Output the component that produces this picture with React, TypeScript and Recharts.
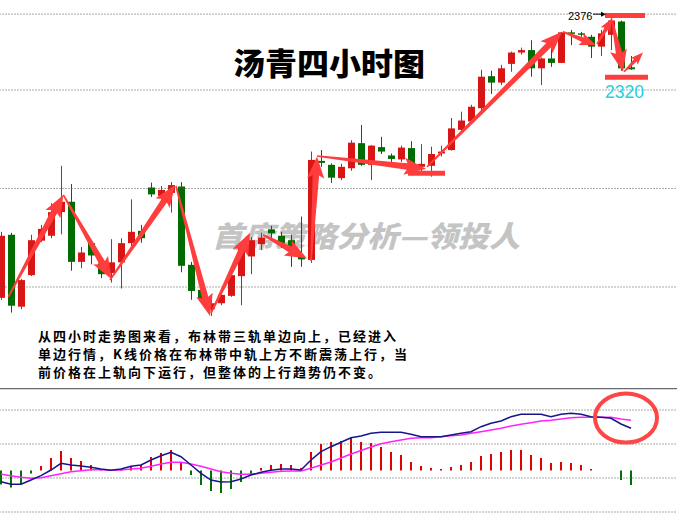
import React from 'react';
import { ComposedChart, Bar, Line, XAxis, YAxis, ReferenceLine, ReferenceDot, Cell } from 'recharts';

// ---- candle data (4-hour) ----
const openP = [
  2317.8, 2330.6, 2316.0, 2322.4, 2329.4, 2330.4, 2335.2, 2337.3, 2325.1, 2328.9,
  2324.8, 2322.8, 2325.0, 2328.9, 2331.4, 2340.2, 2338.5, 2339.1, 2340.4, 2324.5,
  2319.4, 2315.5, 2316.7, 2318.2, 2322.2, 2326.2, 2328.7, 2331.7, 2330.4, 2329.5,
  2326.3, 2325.5, 2345.6, 2344.8, 2342.1, 2344.1, 2349.2, 2344.8, 2348.4, 2346.7,
  2345.9, 2348.2, 2344.4, 2344.6, 2347.1, 2347.8, 2351.9, 2353.6, 2356.3, 2362.8,
  2361.5, 2365.3, 2367.6, 2368.1, 2364.4, 2366.4, 2365.5, 2371.7, 2371.5, 2370.8,
  2368.8, 2371.2, 2373.9, 2364.6,
];
const closeP = [
  2330.4, 2316.2, 2321.4, 2329.5, 2331.8, 2335.2, 2337.3, 2325.1, 2327.0, 2326.4,
  2322.6, 2325.0, 2328.9, 2331.2, 2329.9, 2338.8, 2339.7, 2340.7, 2324.3, 2319.2,
  2317.6, 2316.7, 2318.4, 2322.4, 2327.9, 2329.5, 2330.0, 2330.9, 2328.9, 2327.5,
  2325.6, 2345.8, 2345.2, 2342.2, 2344.4, 2349.3, 2344.8, 2348.7, 2347.5, 2346.0,
  2348.3, 2344.6, 2345.0, 2347.0, 2347.5, 2352.2, 2353.8, 2356.6, 2362.7, 2361.5,
  2364.4, 2367.6, 2368.1, 2364.4, 2366.4, 2365.5, 2371.7, 2371.4, 2371.2, 2368.8,
  2371.5, 2374.1, 2364.4, 2364.2,
];
const highP = [
  2331.2, 2331.0, 2321.6, 2330.6, 2332.6, 2337.0, 2344.6, 2340.9, 2328.1, 2329.5,
  2325.5, 2329.7, 2329.9, 2337.8, 2332.6, 2341.2, 2340.5, 2341.3, 2341.3, 2325.1,
  2320.0, 2317.4, 2319.0, 2324.0, 2328.2, 2330.1, 2331.0, 2332.4, 2331.2, 2330.6,
  2334.3, 2347.5, 2347.8, 2345.1, 2345.0, 2349.8, 2352.9, 2348.8, 2350.5, 2347.1,
  2348.7, 2349.6, 2349.0, 2348.5, 2348.7, 2354.3, 2355.6, 2357.0, 2364.1, 2363.9,
  2365.1, 2367.8, 2368.6, 2370.1, 2366.6, 2368.8, 2371.8, 2372.2, 2371.8, 2371.2,
  2372.2, 2374.6, 2374.1, 2366.9,
];
const lowP = [
  2317.4, 2314.8, 2315.5, 2322.2, 2329.1, 2329.9, 2330.7, 2323.3, 2323.8, 2324.6,
  2321.8, 2320.9, 2319.7, 2328.2, 2329.0, 2338.3, 2337.7, 2335.1, 2323.0, 2317.4,
  2317.0, 2314.1, 2316.3, 2318.0, 2316.3, 2322.6, 2327.5, 2330.0, 2327.9, 2324.1,
  2324.1, 2324.9, 2344.4, 2341.1, 2341.7, 2343.6, 2344.6, 2341.7, 2347.0, 2345.4,
  2345.4, 2344.4, 2343.1, 2342.4, 2346.5, 2347.7, 2351.7, 2353.4, 2355.9, 2359.2,
  2361.0, 2363.7, 2367.2, 2362.7, 2361.0, 2364.7, 2365.5, 2369.1, 2370.8, 2366.5,
  2366.9, 2368.1, 2363.9, 2364.1,
];

// ---- MACD data ----
const histV = [
  -1.4, -1.7, -1.4, -0.3, 0.45, 1.25, 1.95, 1.25, 0.95, 0.55,
  0.15, 0.05, 0.15, 0.45, 0.55, 1.35, 1.75, 2.05, 0.75, -0.45,
  -1.45, -2.05, -2.25, -1.85, -1.15, -0.35, 0.25, 0.55, 0.65, 0.55,
  0.25, 1.85, 2.65, 2.85, 2.95, 3.25, 2.85, 2.75, 2.35, 1.85,
  1.55, 0.85, 0.45, 0.25, 0.15, 0.35, 0.55, 0.85, 1.45, 1.65,
  1.85, 2.05, 2.05, 1.55, 1.25, 0.75, 0.85, 0.75, 0.55, 0.15,
  0, 0, -0.95, -1.45,
];
const difV = [
  -1.12, -1.38, -1.38, -0.95, -0.52, 0.05, 0.72, 0.55, 0.45, 0.32,
  0.15, 0.02, 0.15, 0.42, 0.55, 1.05, 1.48, 1.82, 1.38, 0.55,
  -0.28, -0.95, -1.15, -1.12, -0.85, -0.45, -0.18, 0.02, 0.15, 0.15,
  0.05, 1.05, 1.88, 2.38, 2.82, 3.28, 3.45, 3.72, 3.82, 3.82,
  3.82, 3.62, 3.38, 3.38, 3.38, 3.55, 3.72, 3.88, 4.38, 4.72,
  4.95, 5.38, 5.62, 5.62, 5.62, 5.38, 5.62, 5.72, 5.62, 5.38,
  5.32, 5.22, 4.65, 4.22,
];
const deaV = [
  -0.38, -0.52, -0.68, -0.78, -0.72, -0.52, -0.32, -0.12, -0.02, 0.08,
  0.08, 0.02, 0.05, 0.15, 0.22, 0.42, 0.65, 0.82, 0.82, 0.65,
  0.42, 0.15, -0.12, -0.28, -0.38, -0.38, -0.28, -0.18, -0.08, -0.05,
  -0.05, 0.22, 0.55, 0.85, 1.25, 1.65, 2.0, 2.35, 2.68, 2.88,
  3.05, 3.22, 3.28, 3.28, 3.38, 3.48, 3.55, 3.72, 3.88, 4.05,
  4.22, 4.45, 4.62, 4.78, 4.95, 5.02, 5.15, 5.28, 5.32, 5.32,
  5.32, 5.32, 5.15, 5.02,
];

// ---- grid levels ----
const priceGrid = [2375.4, 2360, 2340, 2320];
const macdGrid = [6.05, 2.65, -0.75, -4.15];
const macdSeparator = 8.2;

// ---- hand-drawn annotations (candle index, price) ----
const arrows = [
  [0.78, 2318.0, 6.28, 2338.7],
  [6.28, 2338.7, 11.1, 2321.6],
  [10.95, 2321.4, 17.45, 2340.7],
  [17.55, 2340.5, 20.95, 2314.1],
  [21.05, 2314.7, 24.95, 2331.0],
  [26.25, 2330.6, 30.65, 2325.8],
  [31.05, 2325.3, 31.65, 2346.5],
  [31.65, 2346.6, 42.55, 2344.0],
  [42.65, 2344.4, 56.15, 2371.8],
  [56.25, 2371.8, 59.55, 2369.1],
  [59.65, 2369.3, 61.2, 2374.6],
  [61.15, 2374.2, 62.25, 2363.7],
  [62.35, 2363.7, 64.25, 2367.6],
];
const levelBars = [
  [40.75, 44.45, 2343.1],
  [60.45, 64.45, 2375.1],
  [60.45, 64.75, 2362.6],
];
const pointer = [59.25, 60.55, 2375.4];
const highLabel = '2376';
const targetLabel = '2320';
const circleCenter = [62.55, 5.25];

const title = '汤青四小时图';
const watermark = '首席策略分析—领投人';
const paragraph = [
  '从四小时走势图来看，布林带三轨单边向上，已经进入',
  '单边行情，K线价格在布林带中轨上方不断震荡上行，当',
  '前价格在上轨向下运行，但整体的上行趋势仍不变。',
];

const candles = openP.map((o, i) => ({ i, open: o, high: highP[i], low: lowP[i], close: closeP[i] }));
const macd = histV.map((h, i) => ({ i, hist: h, dif: difV[i], dea: deaV[i] }));

const RED = '#d91616';
const GREEN = '#006b00';
const ARROW = '#ff3d3d';
const GRID = '#555';
const CJK = '"Noto Sans CJK SC", "Noto Sans", sans-serif';

const CandleShape = (props: any) => {
  const { x, y, width, height, payload } = props;
  const { open, close, high, low } = payload;
  const k = high - low > 0 ? height / (high - low) : 0;
  const py = (p: number) => y + (high - p) * k;
  const color = close >= open ? RED : GREEN;
  const cx = x + width / 2;
  const top = py(Math.max(open, close));
  const bot = py(Math.min(open, close));
  return (
    <g>
      <rect x={cx - 0.5} y={y} width={1} height={Math.max(1, height)} fill={color} />
      <rect x={x} y={top} width={width} height={Math.max(1.2, bot - top)} fill={color} />
    </g>
  );
};

const ArrowShape = (props: any) => {
  const { x1, y1, x2, y2 } = props;
  const dx = x2 - x1;
  const dy = y2 - y1;
  const len = Math.sqrt(dx * dx + dy * dy) || 1;
  const ux = dx / len, uy = dy / len;
  const nx = -uy, ny = ux;
  const h = Math.min(19, Math.max(10, len * 0.4));
  const hw = h * 0.45;
  const sw = h * 0.17;
  const tw = 0.8;
  const bx = x2 - ux * h, by = y2 - uy * h;
  const wx = x2 - ux * h * 1.15, wy = y2 - uy * h * 1.15;
  const pts = [
    [x1 + nx * tw, y1 + ny * tw],
    [bx + nx * sw, by + ny * sw],
    [wx + nx * hw, wy + ny * hw],
    [x2, y2],
    [wx - nx * hw, wy - ny * hw],
    [bx - nx * sw, by - ny * sw],
    [x1 - nx * tw, y1 - ny * tw],
  ];
  return <polygon points={pts.map((p) => p.join(',')).join(' ')} fill={ARROW} />;
};

const PointerShape = (props: any) => {
  const { x1, y1, x2, y2 } = props;
  return (
    <g>
      <line x1={x1} y1={y1} x2={x2 - 3} y2={y2} stroke="#000" strokeWidth={1} />
      <polygon points={`${x2},${y2} ${x2 - 5},${y2 - 2.5} ${x2 - 5},${y2 + 2.5}`} fill="#000" />
    </g>
  );
};

const EllipseShape = (props: any) => (
  <ellipse cx={props.cx} cy={props.cy} rx={31} ry={24.5} fill="none" stroke="#ff4646" strokeWidth={4} />
);

const M = { top: 0, right: 41, bottom: 0, left: -4 };

export default function App() {
  return (
    <div style={{ position: 'fixed', left: 0, top: 0, width: 677, height: 514, background: '#fff', overflow: 'hidden' }}>
      <svg width={677} height={514} style={{ position: 'absolute', left: 0, top: 0 }}>
        <text
          x={212}
          y={247}
          fontSize={29}
          fontWeight={900}
          fontStyle="italic"
          fontFamily={CJK}
          fill="#c4c4c4"
          textLength={308}
          lengthAdjust="spacingAndGlyphs"
        >
          {watermark}
        </text>
      </svg>
      <div style={{ position: 'absolute', left: 0, top: 0 }}>
        <ComposedChart width={677} height={388} data={candles} margin={M}>
          <XAxis dataKey="i" type="category" hide />
          <XAxis xAxisId="n" dataKey="i" type="number" domain={[-0.45, 63.55]} allowDataOverflow hide />
          <YAxis type="number" domain={[2299.49, 2378.27]} allowDataOverflow hide />
          {priceGrid.map((g) => (
            <ReferenceLine
              key={'g' + g}
              xAxisId="n"
              segment={[{ x: -1, y: g }, { x: 68, y: g }]}
              stroke={GRID}
              strokeDasharray="1 2"
              ifOverflow="visible"
            />
          ))}
          <Bar dataKey={(d: any) => [d.low, d.high]} barSize={7} shape={CandleShape} isAnimationActive={false} />
          {levelBars.map((b, k) => (
            <ReferenceLine
              key={'b' + k}
              xAxisId="n"
              segment={[{ x: b[0], y: b[2] }, { x: b[1], y: b[2] }]}
              stroke={ARROW}
              strokeWidth={5}
              ifOverflow="visible"
            />
          ))}
          {arrows.map((a, k) => (
            <ReferenceLine
              key={'a' + k}
              xAxisId="n"
              segment={[{ x: a[0], y: a[1] }, { x: a[2], y: a[3] }]}
              shape={ArrowShape}
              ifOverflow="visible"
            />
          ))}
          <ReferenceLine
            xAxisId="n"
            segment={[{ x: pointer[0], y: pointer[2] }, { x: pointer[1], y: pointer[2] }]}
            shape={PointerShape}
            ifOverflow="visible"
          />
        </ComposedChart>
      </div>
      <div style={{ position: 'absolute', left: 0, top: 388 }}>
        <ComposedChart width={677} height={126} data={macd} margin={M}>
          <XAxis dataKey="i" type="category" hide />
          <XAxis xAxisId="n" dataKey="i" type="number" domain={[-0.45, 63.55]} allowDataOverflow hide />
          <YAxis type="number" domain={[-4.35, 8.25]} allowDataOverflow hide />
          {macdGrid.map((g) => (
            <ReferenceLine
              key={'m' + g}
              xAxisId="n"
              segment={[{ x: -1, y: g }, { x: 68, y: g }]}
              stroke={GRID}
              strokeDasharray="1 2"
              ifOverflow="visible"
            />
          ))}
          <ReferenceLine
            xAxisId="n"
            segment={[{ x: -1, y: macdSeparator }, { x: 68, y: macdSeparator }]}
            stroke="#6a6a6a"
            strokeWidth={1.5}
            ifOverflow="visible"
          />
          <Bar dataKey="hist" barSize={2} isAnimationActive={false}>
            {macd.map((d) => (
              <Cell key={d.i} fill={d.hist >= 0 ? '#e00000' : '#007000'} />
            ))}
          </Bar>
          <Line type="linear" dataKey="dea" stroke="#ff22ff" strokeWidth={1.5} dot={false} isAnimationActive={false} />
          <Line type="linear" dataKey="dif" stroke="#16168a" strokeWidth={1.5} dot={false} isAnimationActive={false} />
          <ReferenceDot
            xAxisId="n"
            x={circleCenter[0]}
            y={circleCenter[1]}
            r={25}
            shape={EllipseShape}
            ifOverflow="visible"
          />
        </ComposedChart>
      </div>
      <svg width={677} height={514} style={{ position: 'absolute', left: 0, top: 0, pointerEvents: 'none' }}>
        <text
          x={233}
          y={75}
          fontSize={31}
          fontWeight={900}
          fontFamily={CJK}
          fill="#000"
          textLength={192}
          lengthAdjust="spacingAndGlyphs"
        >
          {title}
        </text>
        {paragraph.map((line, k) => (
          <text
            key={k}
            x={38}
            y={341 + k * 18}
            fontSize={13}
            fontWeight={700}
            fontFamily={CJK}
            fill="#000"
            letterSpacing={2}
          >
            {line}
          </text>
        ))}
        <text x={568} y={19.8} fontSize={11} fontFamily='"Liberation Sans", Arial, sans-serif' fill="#000">
          {highLabel}
        </text>
        <text x={605} y={98} fontSize={17.5} fontFamily='"Liberation Sans", Arial, sans-serif' fill="#22d0e0">
          {targetLabel}
        </text>
      </svg>
    </div>
  );
}
